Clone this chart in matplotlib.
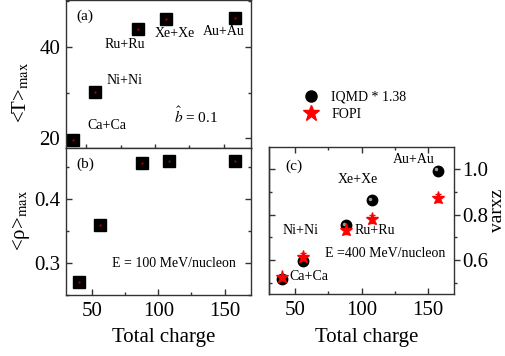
import numpy as np
import matplotlib
matplotlib.use("Agg")
import matplotlib.pyplot as plt
from matplotlib.ticker import MultipleLocator
from matplotlib.lines import Line2D
from matplotlib.transforms import offset_copy

plt.rcParams.update({"font.family": ["Liberation Serif", "DejaVu Serif"],
                     "mathtext.fontset": "stix",
                     "axes.linewidth": 1.0, "axes.edgecolor": "#333333"})

# data
systems = ["Ca+Ca", "Ni+Ni", "Ru+Ru", "Xe+Xe", "Au+Au"]
charge = [40, 56, 88, 108, 158]
t_max = [19.6, 30.2, 43.9, 46.0, 46.3]
rho_max = [0.270, 0.360, 0.456, 0.459, 0.460]
iqmd = [0.519, 0.597, 0.753, 0.863, 0.993]
fopi = [0.525, 0.615, 0.734, 0.782, 0.873]
fopi_err = [0.010, 0.018, 0.018, 0.018, 0.018]

W, H = 505, 356
fig = plt.figure(figsize=(W / 100, H / 100), dpi=100)

def box(x0, y0, x1, y1):
    # pixel box -> figure fraction
    return [x0 / W, 1 - y1 / H, (x1 - x0) / W, (y1 - y0) / H]

ax_a = fig.add_axes(box(65.7, 0, 251, 148))
ax_b = fig.add_axes(box(65.7, 148, 251, 295))
ax_c = fig.add_axes(box(269, 147.3, 454, 294.3))

TK = 15
for ax in (ax_a, ax_b, ax_c):
    ax.xaxis.set_major_locator(MultipleLocator(50))
    ax.xaxis.set_minor_locator(MultipleLocator(25))
    ax.tick_params(which="major", length=4, width=1, color="#333333", labelsize=TK)
    ax.tick_params(which="minor", length=2.5, width=1, color="#333333")

# ---- (a)
ax_a.plot(charge, t_max, "s", ms=8, color="black")
ax_a.plot(charge, t_max, ".", ms=0.8, color="red")
ax_a.set_xlim(35, 170)
ax_a.set_ylim(17.9, 50.2)
ax_a.yaxis.set_major_locator(MultipleLocator(20))
ax_a.yaxis.set_minor_locator(MultipleLocator(10))
ax_a.tick_params(axis="y", which="both", direction="in", left=True, right=True, pad=4)
ax_a.tick_params(axis="x", which="both", direction="inout", bottom=True, top=False,
                 labelbottom=False)
ax_a.tick_params(axis="x", which="major", length=6)
ax_a.tick_params(axis="x", which="minor", length=4)
ax_a.text(0.056, 0.892, "(a)", transform=ax_a.transAxes, fontsize=11, va="center")
for s, (x, y) in zip(systems, [(0.223, 0.149), (0.32, 0.453), (0.32, 0.696),
                               (0.59, 0.777), (0.854, 0.79)]):
    ax_a.text(x, y, s, transform=ax_a.transAxes, fontsize=10, ha="center", va="center")
ax_a.text(0.704, 0.215, r"$\hat{b}$ = 0.1", transform=ax_a.transAxes, fontsize=11,
          ha="center", va="center")

# ---- (b)
ax_b.plot(charge, rho_max, "s", ms=8, color="black")
ax_b.plot(charge, rho_max, ".", ms=0.8, color="red")
ax_b.set_xlim(30, 170)
ax_b.set_ylim(0.25, 0.48)
ax_b.yaxis.set_major_locator(MultipleLocator(0.1))
ax_b.yaxis.set_minor_locator(MultipleLocator(0.05))
ax_b.tick_params(axis="y", which="both", direction="in", left=True, right=True, pad=4)
ax_b.tick_params(axis="x", which="both", direction="in", bottom=True, top=False, pad=5)
ax_b.text(0.056, 0.889, "(b)", transform=ax_b.transAxes, fontsize=11, va="center")
ax_b.text(0.585, 0.211, "E = 100 MeV/nucleon", transform=ax_b.transAxes, fontsize=10,
          ha="center", va="center")

# ---- (c)
ax_c.errorbar(charge, fopi, yerr=fopi_err, fmt="none", ecolor="red", elinewidth=1,
              capsize=2.5, zorder=2)
ax_c.plot(charge, iqmd, "o", ms=7.5, color="black", zorder=3)
hl = offset_copy(ax_c.transData, fig=fig, x=-1.2, y=1.2, units="points")
ax_c.plot(charge, iqmd, "o", ms=2.5, color="#9a9a9a", mec="none", transform=hl, zorder=4)
ax_c.plot(charge, fopi, "*", ms=9.5, color="red", mec="red", zorder=5)
ax_c.set_xlim(30, 170)
ax_c.set_ylim(0.45, 1.097)
ax_c.yaxis.set_major_locator(MultipleLocator(0.2))
ax_c.yaxis.set_minor_locator(MultipleLocator(0.1))
ax_c.yaxis.tick_right()
ax_c.tick_params(axis="y", which="both", direction="out", left=False, right=True, pad=2)
ax_c.tick_params(axis="x", which="both", direction="in", bottom=True, top=True, pad=5)
sec = ax_c.secondary_yaxis("left")
sec.yaxis.set_major_locator(MultipleLocator(0.2))
sec.yaxis.set_minor_locator(MultipleLocator(0.1))
sec.tick_params(which="both", direction="in", labelleft=False, color="#333333", width=1)
sec.tick_params(which="major", length=4)
sec.tick_params(which="minor", length=2.5)
ax_c.text(0.086, 0.873, "(c)", transform=ax_c.transAxes, fontsize=11, va="center")
for s, (x, y) in zip(systems, [(0.217, 0.12), (0.168, 0.431), (0.573, 0.431),
                               (0.48, 0.778), (0.784, 0.92)]):
    ax_c.text(x, y, s, transform=ax_c.transAxes, fontsize=10, ha="center", va="center")
ax_c.text(0.627, 0.279, "E =400 MeV/nucleon", transform=ax_c.transAxes, fontsize=10,
          ha="center", va="center")

# axis labels
fig.text(21 / W, 1 - 92 / H, r"<T>$_{\mathrm{max}}$", rotation=90, fontsize=15,
         ha="center", va="center")
fig.text(21 / W, 1 - 220 / H, r"<ρ>$_{\mathrm{max}}$", rotation=90, fontsize=15,
         ha="center", va="center")
fig.text(497 / W, 1 - 210 / H, "varxz", rotation=90, fontsize=14,
         ha="center", va="center")
fig.text(164 / W, 1 - 342 / H, "Total charge", fontsize=15, ha="center", va="baseline")
fig.text(367 / W, 1 - 342 / H, "Total charge", fontsize=15, ha="center", va="baseline")

# legend
handles = [Line2D([], [], ls="none", marker="o", ms=8, color="black"),
           Line2D([], [], ls="none", marker="*", ms=12, color="red")]
fig.legend(handles, ["IQMD * 1.38", "FOPI"], loc="center left",
           bbox_to_anchor=(304 / W, 1 - 105.5 / H), frameon=False, fontsize=10,
           handlelength=1.0, handletextpad=0.95, labelspacing=0.3, borderpad=0,
           borderaxespad=0)

fig.savefig("out.png", dpi=100)
